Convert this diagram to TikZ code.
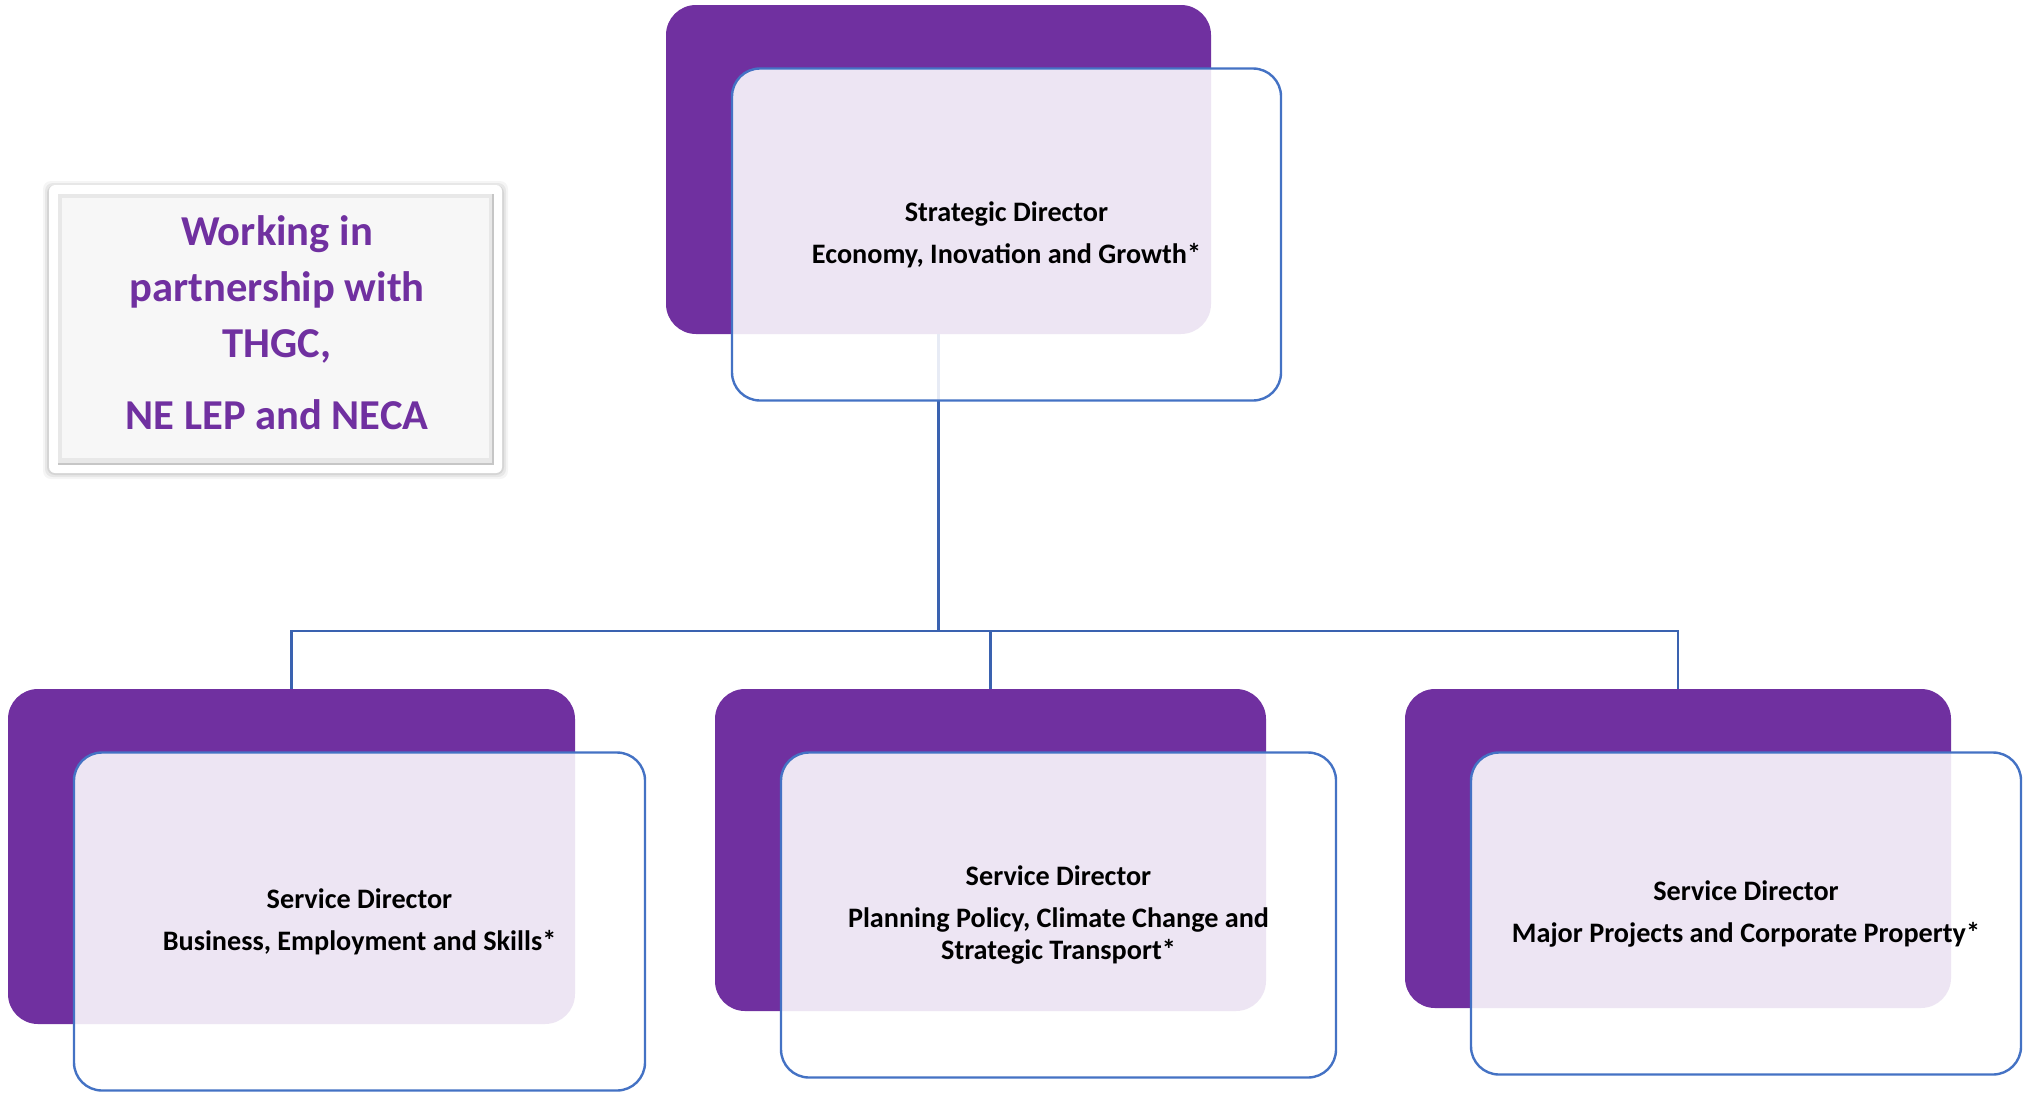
\documentclass[tikz,border=0pt]{standalone}
\usepackage{fontspec}
\setmainfont{Carlito}
\usetikzlibrary{positioning,calc}
\definecolor{dirpurple}{HTML}{7030A0}
\definecolor{dirblue}{HTML}{4472C4}
\definecolor{linkblue}{HTML}{3A62B0}
\tikzset{
  backbox/.style={fill=dirpurple, rounded corners=15pt, inner sep=0pt},
  frontbox/.style={draw=dirblue, line width=1.2pt, fill=white, fill opacity=0.88,
    text opacity=1, rounded corners=14pt, inner sep=0pt, align=center,
    font=\bfseries\fontsize{14.1}{16}\selectfont},
  link/.style={draw=linkblue, line width=1.2pt},
  partnertext/.style={text=dirpurple, align=center, font=\bfseries\fontsize{21.3}{28}\selectfont}
}

\begin{document}
\begin{tikzpicture}[x=0.5pt, y=-0.5pt]
    \useasboundingbox (0,0) rectangle (2027,1092);
    % purple back panels
    \node[backbox, minimum width=272.5pt, minimum height=164.5pt] (topbg) at (938.5,169.5) {};
    \node[backbox, minimum width=283.5pt, minimum height=167.5pt] (bizbg) at (291.5,856.5) {};
    \node[backbox, minimum width=275.5pt, minimum height=161pt] (planbg) at (990.5,850) {};
    \node[backbox, minimum width=273pt, minimum height=159.5pt] (projbg) at (1678,848.5) {};
    % connectors
    \coordinate (bus) at (938.5,631);
    \draw[link] (topbg.south) -- (bus) -| (bizbg.north);
    \draw[link] (bus) -| (planbg.north);
    \draw[link] (bus) -| (projbg.north);
    % front boxes
    \node[frontbox, minimum width=274.5pt, minimum height=166pt] (top) at ($(topbg)+(68,65)$)
      {Strategic Director\\[5pt] Economy, Inovation and Growth*};
    \node[frontbox, minimum width=285.5pt, minimum height=169pt] (biz) at ($(bizbg)+(68,65)$)
      {Service Director\\[5pt] Business, Employment and Skills*};
    \node[frontbox, minimum width=277.5pt, minimum height=162.5pt] (plan) at ($(planbg)+(68,65)$)
      {Service Director\\[5pt] Planning Policy, Climate Change and\\ Strategic Transport*};
    \node[frontbox, minimum width=275pt, minimum height=161pt] (proj) at ($(projbg)+(68,65)$)
      {Service Director\\[5pt] Major Projects and Corporate Property*};
    % partnership panel
    \foreach \s/\o in {6/0.04, 4/0.06, 2/0.08} {
      \fill[black, opacity=\o, rounded corners=4pt] (49-\s,185-\s+2) rectangle (502+\s,473+\s);
    }
    \fill[white, rounded corners=3pt] (49,185) rectangle (502,473);
    \fill[gray!18] (58,194) rectangle (493,464);
    \fill[gray!6] (62,198) rectangle (489,458);
    \draw[gray!45, line width=1pt] (58,464) -- (493,464) -- (493,194);
    \node[partnertext] (partner) at (277,323) {Working in\\partnership with\\THGC,\\[8pt]NE LEP and NECA};
\end{tikzpicture}
\end{document}
